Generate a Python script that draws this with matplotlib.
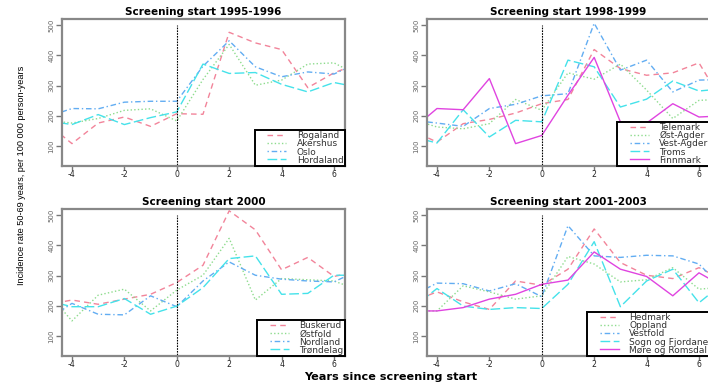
import numpy as np
import matplotlib
matplotlib.use('Agg')
import matplotlib.pyplot as plt
from matplotlib.legend_handler import HandlerLine2D

# years since screening start (points at -5 and 7 fall outside the visible range)
years = [-5, -4, -3, -2, -1, 0, 1, 2, 3, 4, 5, 6, 7]

titles = ['Screening start 1995-1996', 'Screening start 1998-1999',
          'Screening start 2000', 'Screening start 2001-2003']

names_a = ['Rogaland', 'Akershus', 'Oslo', 'Hordaland']
rate_a = [
    [179, 108, 176, 196, 165, 207, 205, 476, 441, 419, 293, 342, 375],
    [186, 176, 191, 218, 223, 183, 320, 436, 301, 318, 371, 375, 330],
    [195, 224, 223, 245, 248, 248, 364, 448, 362, 329, 345, 338, 378],
    [184, 171, 204, 171, 194, 213, 371, 340, 343, 304, 279, 310, 293],
]
names_b = ['Telemark', 'Øst-Agder', 'Vest-Agder', 'Troms', 'Finnmark']
rate_b = [
    [154, 113, 174, 188, 209, 240, 254, 419, 356, 334, 342, 375, 231],
    [190, 163, 157, 174, 254, 218, 342, 321, 371, 285, 191, 251, 255],
    [186, 176, 165, 224, 238, 266, 273, 506, 351, 384, 279, 318, 320],
    [132, 110, 220, 130, 185, 180, 384, 362, 229, 255, 315, 282, 290],
    [151, 224, 220, 323, 108, 135, 268, 393, 180, 176, 240, 196, 200],
]
names_c = ['Buskerud', 'Østfold', 'Nordland', 'Trøndelag']
rate_c = [
    [203, 219, 205, 222, 238, 277, 334, 514, 451, 319, 360, 297, 315],
    [250, 150, 235, 255, 183, 252, 301, 423, 219, 290, 286, 282, 250],
    [150, 208, 172, 170, 233, 197, 282, 345, 301, 288, 282, 279, 320],
    [218, 197, 197, 224, 172, 199, 260, 356, 365, 238, 241, 301, 301],
]
names_d = ['Hedmark', 'Oppland', 'Vestfold', 'Sogn og Fjordane', 'Møre og Romsdal']
rate_d = [
    [212, 246, 213, 188, 282, 268, 321, 454, 343, 301, 290, 326, 283],
    [183, 183, 266, 246, 222, 233, 363, 338, 279, 286, 326, 255, 262],
    [231, 275, 273, 249, 273, 230, 465, 365, 360, 367, 365, 338, 250],
    [189, 257, 199, 188, 194, 191, 271, 412, 197, 282, 321, 210, 280],
    [183, 183, 194, 222, 238, 271, 285, 378, 321, 297, 233, 309, 260],
]

colors = ['#f2849a', '#8edc8e', '#62adf2', '#45e2ea', '#e044e0']
styles = [(0, (4, 3)), (0, (1, 1.6)), (0, (1, 2, 4, 2)), (0, (7, 2.5)), '-']


class PaddedLine(HandlerLine2D):
    # R-style legend: blank space left of the short line sample
    def create_artists(self, legend, orig_handle, xdescent, ydescent, width, height,
                       fontsize, trans):
        pad = 0.37 * width
        return super().create_artists(legend, orig_handle, xdescent - pad, ydescent,
                                      width - pad, height, fontsize, trans)


plt.rcParams['font.family'] = ['DejaVu Sans']
plt.rcParams['axes.unicode_minus'] = False

fig = plt.figure(figsize=(7.08, 3.82), dpi=100)
W, H = 708, 382
boxes = [(62, 19), (427, 19), (62, 209), (427, 209)]
pw, ph = 283, 147
panels = [(names_a, rate_a), (names_b, rate_b), (names_c, rate_c), (names_d, rate_d)]

for (lx, ty), title, (names, rates) in zip(boxes, titles, panels):
    ax = fig.add_axes([lx / W, 1 - (ty + ph) / H, pw / W, ph / H])
    for i, (nm, r) in enumerate(zip(names, rates)):
        ax.plot(years, r, color=colors[i], ls=styles[i], lw=1.0, label=nm)
    ax.plot([0, 0], [0, 500], color='black', ls=(0, (1.5, 1)), lw=0.8)
    ax.set_xlim(-4.38, 6.42)
    ax.set_ylim(34, 520)
    ax.set_xticks([-4, -2, 0, 2, 4, 6])
    ax.set_yticks([100, 200, 300, 400, 500])
    ax.tick_params(axis='x', labelsize=5.6, colors='#777', labelcolor='#222', length=2.6,
                   width=1, pad=0.4)
    ax.tick_params(axis='y', labelsize=5, colors='#777', labelcolor='#666', length=4.5,
                   width=1, pad=1, labelrotation=90)
    for lab in ax.get_yticklabels():
        lab.set_va('center')
    for s in ax.spines.values():
        s.set_color('#888')
        s.set_linewidth(1.6)
    ax.set_title(title, fontsize=7.5, fontweight='bold', pad=3)
    leg = ax.legend(loc='lower right', fontsize=6.5, labelspacing=-0.1, borderpad=0.15,
                    handlelength=3.3, handletextpad=1.2, borderaxespad=0, fancybox=False,
                    framealpha=1, handler_map={matplotlib.lines.Line2D: PaddedLine()})
    leg.get_frame().set_edgecolor('black')
    leg.get_frame().set_linewidth(1.4)
    for t in leg.get_texts():
        t.set_color('#333')

fig.text(22 / W, 1 - 175 / H, 'Incidence rate 50-69 years, per 100 000 person-years',
         rotation=90, ha='center', va='center', fontsize=6.6, family='Liberation Sans')
fig.text(391 / W, 1 - 381.7 / H, 'Years since screening start', ha='center', va='bottom',
         fontsize=8.1, fontweight='bold')

fig.savefig('out.png', dpi=100)
